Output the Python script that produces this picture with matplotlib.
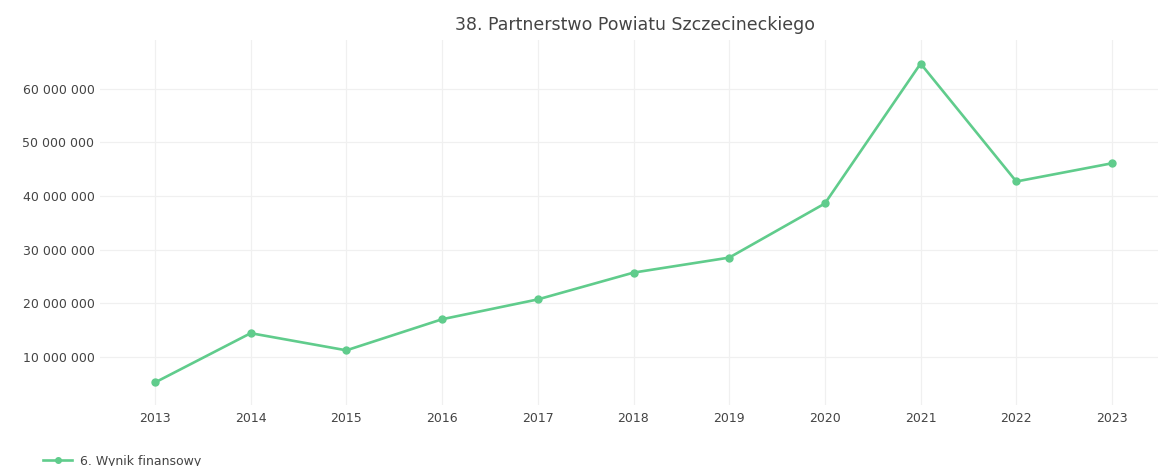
import matplotlib
matplotlib.use('Agg')
import matplotlib.pyplot as plt
from matplotlib.ticker import FuncFormatter

# data
years = [2013, 2014, 2015, 2016, 2017, 2018, 2019, 2020, 2021, 2022, 2023]
wynik = [5.2e6, 14.4e6, 11.2e6, 17.0e6, 20.7e6, 25.7e6, 28.5e6, 38.6e6, 64.7e6, 42.7e6, 46.1e6]
y_ticks = [10e6, 20e6, 30e6, 40e6, 50e6, 60e6]

title = '38. Partnerstwo Powiatu Szczecineckiego'
series_name = '6. Wynik finansowy'
line_color = '#60cc8c'
text_color = '#444444'

plt.rcParams['font.family'] = ['DejaVu Sans']

fig = plt.figure(figsize=(11.6, 4.66), dpi=100)
ax = fig.add_axes([100 / 1160, 1 - 405 / 466, 1058 / 1160, 365 / 466])

ax.plot(years, wynik, color=line_color, lw=1.9, marker='o', ms=5,
        label=series_name)

ax.set_xlim(2013 - 55 / 95.7, 2023 + 46 / 95.7)
ax.set_ylim(1.0e6, 69.1e6)
ax.set_xticks(years)
ax.set_yticks(y_ticks)
ax.yaxis.set_major_formatter(FuncFormatter(lambda v, p: f'{int(v):,}'.replace(',', ' ')))

ax.grid(True, color='#f0f0f0', lw=0.9)
ax.set_axisbelow(True)
for s in ax.spines.values():
    s.set_visible(False)
ax.tick_params(length=0, labelsize=9, colors=text_color)
ax.tick_params(axis='x', pad=5)
ax.tick_params(axis='y', pad=4)

fig.text(635 / 1160, 1 - 25 / 466, title, ha='center', va='center',
         fontsize=12.5, color=text_color)

fig.legend(loc='lower left', bbox_to_anchor=(32 / 1160, -13 / 466), frameon=False,
           fontsize=9, labelcolor=text_color, handlelength=2.3,
           handletextpad=0.6, markerscale=0.8)

plt.savefig('out.png', dpi=100)
